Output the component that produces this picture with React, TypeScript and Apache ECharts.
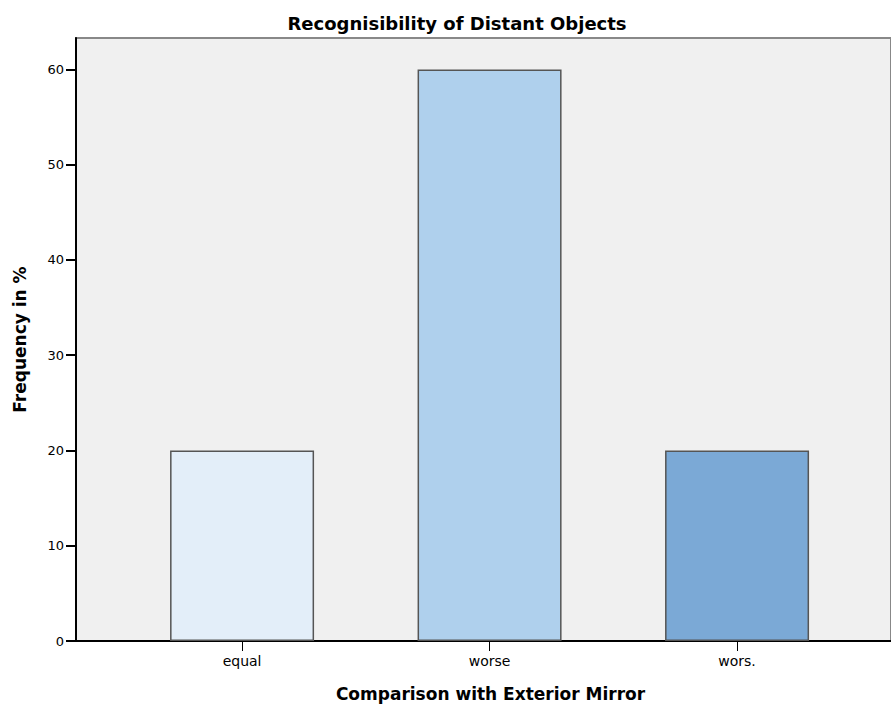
import React, { useEffect, useRef } from "react";
import * as echarts from "echarts";

const categories = ["equal", "worse", "wors."];
const frequencies = [20, 60, 20];
const barColors = ["#e3eef9", "#afd0ed", "#7ba9d6"];
const yTicks = [0, 10, 20, 30, 40, 50, 60];
const positions = [1, 2, 3];

export default function App() {
  const ref = useRef<HTMLDivElement>(null);
  useEffect(() => {
    if (!ref.current) return;
    const chart = echarts.init(ref.current, null, { renderer: "svg" });
    const font = "DejaVu Sans, Liberation Sans, sans-serif";
    chart.setOption({
      animation: false,
      backgroundColor: "#ffffff",
      title: {
        text: "Recognisibility of Distant Objects",
        left: 452,
        top: 9,
        textAlign: "center",
        textStyle: { fontFamily: font, fontSize: 18, fontWeight: "bold", color: "#000" },
      },
      grid: {
        left: 76,
        right: 0,
        top: 38,
        bottom: 67,
        show: true,
        backgroundColor: "#f0f0f0",
        borderColor: "#888",
        borderWidth: 2,
        containLabel: false,
        outerBoundsMode: "none",
      },
      xAxis: {
        type: "value",
        min: 0.329,
        max: 3.622,
        splitLine: { show: false },
        axisLine: { show: true, onZero: false, lineStyle: { color: "#000", width: 2 } },
        axisTick: { show: true, customValues: positions, length: 10, lineStyle: { color: "#000" } },
        axisLabel: {
          customValues: positions,
          formatter: (v: number) => categories[Math.round(v) - 1] ?? "",
          fontFamily: font,
          fontSize: 14,
          color: "#000",
          margin: 13,
        },
        name: "Comparison with Exterior Mirror",
        nameLocation: "middle",
        nameGap: 44,
        nameTextStyle: {
          fontFamily: font,
          fontSize: 17,
          fontWeight: "bold",
          color: "#000",
          padding: [0, 0, 0, 14],
        },
      },
      yAxis: {
        type: "value",
        min: 0,
        max: 63.3,
        splitLine: { show: false },
        axisLine: { show: true, lineStyle: { color: "#000", width: 2 } },
        axisTick: { show: true, customValues: yTicks, length: 10, lineStyle: { color: "#000", width: 2 } },
        axisLabel: {
          customValues: yTicks,
          fontFamily: font,
          fontSize: 13,
          color: "#000",
          margin: 12,
        },
        name: "Frequency in %",
        nameLocation: "middle",
        nameGap: 48,
        nameTextStyle: { fontFamily: font, fontSize: 17, fontWeight: "bold", color: "#000" },
      },
      series: [
        {
          type: "bar",
          barWidth: 144,
          data: positions.map((p, i) => ({
            value: [p, frequencies[i]],
            itemStyle: { color: barColors[i], borderColor: "#555", borderWidth: 1.5 },
          })),
        },
      ],
    });
    return () => chart.dispose();
  }, []);
  return (
    <div
      ref={ref}
      style={{ position: "absolute", left: 0, top: 0, width: 891, height: 708 }}
    />
  );
}
